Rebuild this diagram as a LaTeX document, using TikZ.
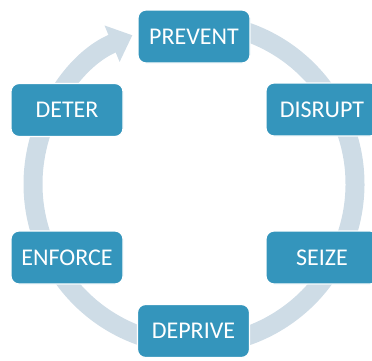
\documentclass[tikz,border=0pt]{standalone}
\usepackage{fontspec}
\setmainfont{Carlito}
\usetikzlibrary{arrows.meta}
\definecolor{boxblue}{RGB}{52,149,188}
\definecolor{ringblue}{RGB}{206,220,230}
\tikzset{
  stagebox/.style={rectangle, rounded corners=8pt, fill=boxblue, draw=white, line width=1.2pt,
    minimum width=112pt, minimum height=53pt, text=white, font=\fontsize{24}{28}\selectfont, inner sep=0pt},
  ring/.style={draw=ringblue, line width=19pt, -{Triangle[width=38pt,length=22pt]}}
}
\begin{document}
\begin{tikzpicture}[x=1pt,y=1pt]
\useasboundingbox (0,0) rectangle (372,360);
\clip (0,0) rectangle (372,360);
\coordinate (c) at (194,176);
\draw[ring] (c) ++(85:161) arc[start angle=85, end angle=-247.5, radius=161];
\node[stagebox] (prevent) at (194,323.5) {PREVENT};
\node[stagebox] (deter) at (67,250) {DETER};
\node[stagebox] (disrupt) at (322,250.5) {DISRUPT};
\node[stagebox] (enforce) at (67,102.5) {ENFORCE};
\node[stagebox] (seize) at (322,102.5) {SEIZE};
\node[stagebox] (deprive) at (193.5,29) {DEPRIVE};
\end{tikzpicture}
\end{document}
